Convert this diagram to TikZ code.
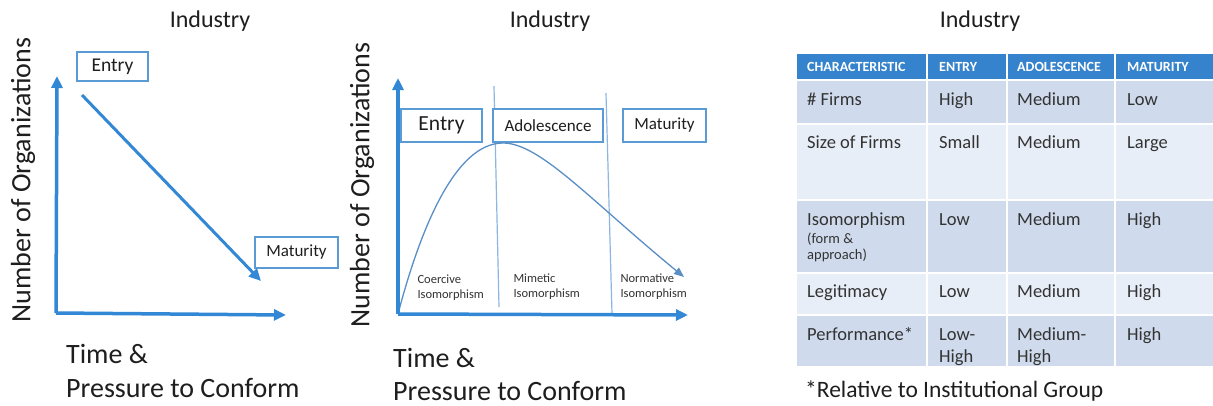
\documentclass[tikz,border=0pt]{standalone}
\usepackage{fontspec}
\setmainfont{Carlito}
\usetikzlibrary{arrows.meta}
\definecolor{axisblue}{HTML}{3388D6}
\definecolor{boxblue}{HTML}{5B9BD5}
\definecolor{sepblue}{HTML}{8DB6E2}
\definecolor{curveblue}{HTML}{5A8FC6}
\definecolor{hdrblue}{HTML}{3583CC}
\definecolor{rowdark}{HTML}{CFDBED}
\definecolor{rowlight}{HTML}{E8EEF7}
\definecolor{txt}{HTML}{1E1E1E}
\definecolor{celltxt}{HTML}{333333}
\begin{document}
\begin{tikzpicture}[x=1pt,y=-1pt,
  axis/.style={axisblue,line width=3.5pt,-{Triangle[length=12pt,width=11pt]}},
  stagebox/.style={draw=boxblue,line width=1.3pt,fill=white,text=txt,inner sep=0pt},
  title/.style={font=\fontsize{24}{26}\selectfont,text=txt,anchor=base},
  axlabel/.style={font=\fontsize{28}{30}\selectfont,text=txt},
  iso/.style={font=\fontsize{12.5}{15}\selectfont,text=celltxt,align=left,anchor=west},
  hdr/.style={font=\bfseries\fontsize{14}{16}\selectfont,text=white,anchor=base west,inner sep=0pt},
  cell/.style={font=\fontsize{18.5}{22}\selectfont,text=celltxt,anchor=base west,inner sep=0pt},
  small/.style={font=\fontsize{14.5}{17}\selectfont,text=celltxt,anchor=base west,inner sep=0pt}]
\useasboundingbox (0,0) rectangle (1213,405);
\fill[white] (0,0) rectangle (1213,405);

% ---------- Panel 1 ----------
\node[title] (t1) at (210,27) {Industry};
\coordinate (o1) at (56,313);
\coordinate (y1) at (57,76);
\coordinate (x1) at (286,315);
\draw[axis] (o1) -- (y1);
\draw[axis] (o1) -- (x1);
\node[stagebox,minimum width=71pt,minimum height=29pt,font=\fontsize{19.5}{22}\selectfont] (entry1) at (112.5,66.5) {Entry};
\node[stagebox,minimum width=83pt,minimum height=31pt,font=\fontsize{17}{19}\selectfont] (mat1) at (296.5,252.5) {Maturity};
\coordinate (d1s) at (82,95);
\coordinate (d1e) at (261,281);
\draw[axis,line width=3pt] (d1s) -- (d1e);
\node[axlabel,rotate=90] (ylab1) at (23,180) {Number of Organizations};
\node[axlabel,anchor=base west,inner sep=0pt] (tl1) at (66,363) {Time \&};
\node[axlabel,anchor=base west,inner sep=0pt] (pl1) at (66,397) {Pressure to Conform};

% ---------- Panel 2 ----------
\node[title] (t2) at (550,27) {Industry};
\coordinate (o2) at (398,314);
\coordinate (y2) at (398,78);
\coordinate (x2) at (688,315);
\draw[sepblue,line width=1.2pt] (494,86) -- (499,307);
\draw[sepblue,line width=1.2pt] (606,93) -- (612,314);
\node[stagebox,minimum width=81pt,minimum height=33pt,font=\fontsize{21.5}{24}\selectfont] (entry2) at (441.5,125.5) {Entry};
\node[stagebox,minimum width=110pt,minimum height=33pt,font=\fontsize{17}{19}\selectfont] (adol2) at (548,125.5) {Adolescence};
\node[stagebox,minimum width=83pt,minimum height=33pt,font=\fontsize{17}{19}\selectfont] (mat2) at (664.5,125.5) {Maturity};
\draw[curveblue,line width=1.3pt,-{Triangle[length=10pt,width=8pt]}]
  (o2) .. controls (420,230) and (455,143) .. (503,143)
  .. controls (540,143) and (590,200) .. (684,277);
\draw[axis] (o2) -- (y2);
\draw[axis] (o2) -- (x2);
\node[iso] (coer) at (414,288) {Coercive\\Isomorphism};
\node[iso] (mim) at (510,287) {Mimetic\\Isomorphism};
\node[iso] (norm) at (617,287) {Normative\\Isomorphism};
\node[axlabel,rotate=90] (ylab2) at (362,185) {Number of Organizations};
\node[axlabel,anchor=base west,inner sep=0pt] (tl2) at (393,367) {Time \&};
\node[axlabel,anchor=base west,inner sep=0pt] (pl2) at (393,400) {Pressure to Conform};

% ---------- Panel 3 (table) ----------
\node[title] (t3) at (980,27) {Industry};
\begin{scope}[draw=white,line width=2pt]
  \filldraw[fill=hdrblue] (796,53) rectangle (927,80);
  \filldraw[fill=hdrblue] (927,53) rectangle (1007,80);
  \filldraw[fill=hdrblue] (1007,53) rectangle (1115,80);
  \filldraw[fill=hdrblue] (1115,53) rectangle (1214,80);
  \foreach \ya/\yb/\c in {80/124/rowdark,124/200/rowlight,200/273/rowdark,273/315/rowlight,315/367/rowdark}{
    \filldraw[fill=\c] (796,\ya) rectangle (927,\yb);
    \filldraw[fill=\c] (927,\ya) rectangle (1007,\yb);
    \filldraw[fill=\c] (1007,\ya) rectangle (1115,\yb);
    \filldraw[fill=\c] (1115,\ya) rectangle (1214,\yb);
  }
\end{scope}
\node[hdr] (h1) at (807,71) {CHARACTERISTIC};
\node[hdr] (h2) at (939,71) {ENTRY};
\node[hdr] (h3) at (1017,71) {ADOLESCENCE};
\node[hdr] (h4) at (1127,71) {MATURITY};

\node[cell] (r1a) at (807,105) {\# Firms};
\node[cell] (r1b) at (939,105) {High};
\node[cell] (r1c) at (1017,105) {Medium};
\node[cell] (r1d) at (1127,105) {Low};

\node[cell] (r2a) at (807,148) {Size of Firms};
\node[cell] (r2b) at (939,148) {Small};
\node[cell] (r2c) at (1017,148) {Medium};
\node[cell] (r2d) at (1127,148) {Large};

\node[cell] (r3a) at (807,225) {Isomorphism};
\node[small] (r3a2) at (807,243) {(form \&};
\node[small] (r3a3) at (807,259) {approach)};
\node[cell] (r3b) at (939,225) {Low};
\node[cell] (r3c) at (1017,225) {Medium};
\node[cell] (r3d) at (1127,225) {High};

\node[cell] (r4a) at (807,297) {Legitimacy};
\node[cell] (r4b) at (939,297) {Low};
\node[cell] (r4c) at (1017,297) {Medium};
\node[cell] (r4d) at (1127,297) {High};

\node[cell] (r5a) at (807,340) {Performance*};
\node[cell] (r5b) at (939,340) {Low-};
\node[cell] (r5b2) at (939,362) {High};
\node[cell] (r5c) at (1017,340) {Medium-};
\node[cell] (r5c2) at (1017,362) {High};
\node[cell] (r5d) at (1127,340) {High};

\node[font=\fontsize{23.5}{26}\selectfont,text=txt,anchor=base west,inner sep=0pt] (foot) at (805,397) {*Relative to Institutional Group};
\end{tikzpicture}
\end{document}
